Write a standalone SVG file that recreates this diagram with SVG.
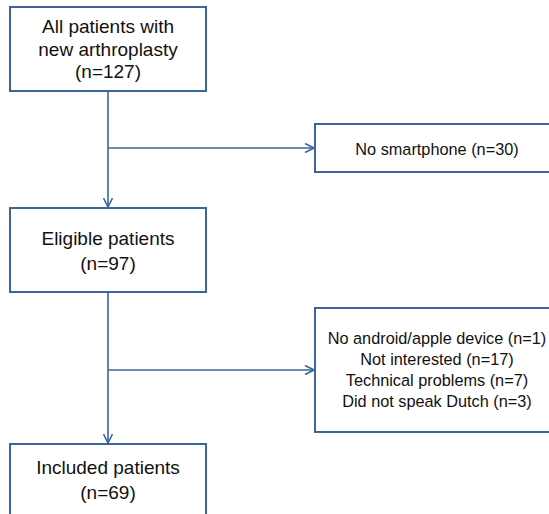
<svg xmlns="http://www.w3.org/2000/svg" width="549" height="514" viewBox="0 0 549 514">
<defs>
<style>
.box{fill:#fff;stroke:#3B659B;stroke-width:2}
.t{font-family:"Liberation Sans",Arial,sans-serif;font-size:19px;fill:#111;text-anchor:middle}
.s{font-family:"Liberation Sans",Arial,sans-serif;font-size:16.3px;fill:#111;text-anchor:middle}
.c{fill:none;stroke:#3B659B;stroke-width:1.6}
</style>
<marker id="arr" viewBox="0 0 10 10" refX="10" refY="5" markerWidth="10" markerHeight="10" markerUnits="userSpaceOnUse" orient="auto">
<path d="M1,0.5 L10,5 L1,9.5" fill="none" stroke="#3B659B" stroke-width="1.6"/>
</marker>
</defs>
<rect width="549" height="514" fill="#fff"/>
<g id="connectors">
<line class="c" x1="108" y1="91" x2="108" y2="207" marker-end="url(#arr)"/>
<line class="c" x1="108" y1="148" x2="314" y2="148" marker-end="url(#arr)"/>
<line class="c" x1="108" y1="292" x2="108" y2="443" marker-end="url(#arr)"/>
<line class="c" x1="108" y1="370" x2="314" y2="370" marker-end="url(#arr)"/>
</g>
<g id="all">
<rect class="box" x="10" y="7" width="196" height="84"/>
<text class="t" x="108" y="33">All patients with</text>
<text class="t" x="108" y="55.5">new arthroplasty</text>
<text class="t" x="108" y="78">(n=127)</text>
</g>
<g id="nosmart">
<rect class="box" x="315" y="124" width="244" height="48"/>
<text class="s" x="437" y="155">No smartphone (n=30)</text>
</g>
<g id="eligible">
<rect class="box" x="10" y="208" width="196" height="84"/>
<text class="t" x="108" y="245">Eligible patients</text>
<text class="t" x="108" y="270">(n=97)</text>
</g>
<g id="excluded">
<rect class="box" x="315" y="308" width="244" height="124"/>
<text class="s" x="437" y="344">No android/apple device (n=1)</text>
<text class="s" x="437" y="365">Not interested (n=17)</text>
<text class="s" x="437" y="386">Technical problems (n=7)</text>
<text class="s" x="437" y="407">Did not speak Dutch (n=3)</text>
</g>
<g id="included">
<rect class="box" x="10" y="444" width="196" height="84"/>
<text class="t" x="108" y="474">Included patients</text>
<text class="t" x="108" y="499">(n=69)</text>
</g>
</svg>
